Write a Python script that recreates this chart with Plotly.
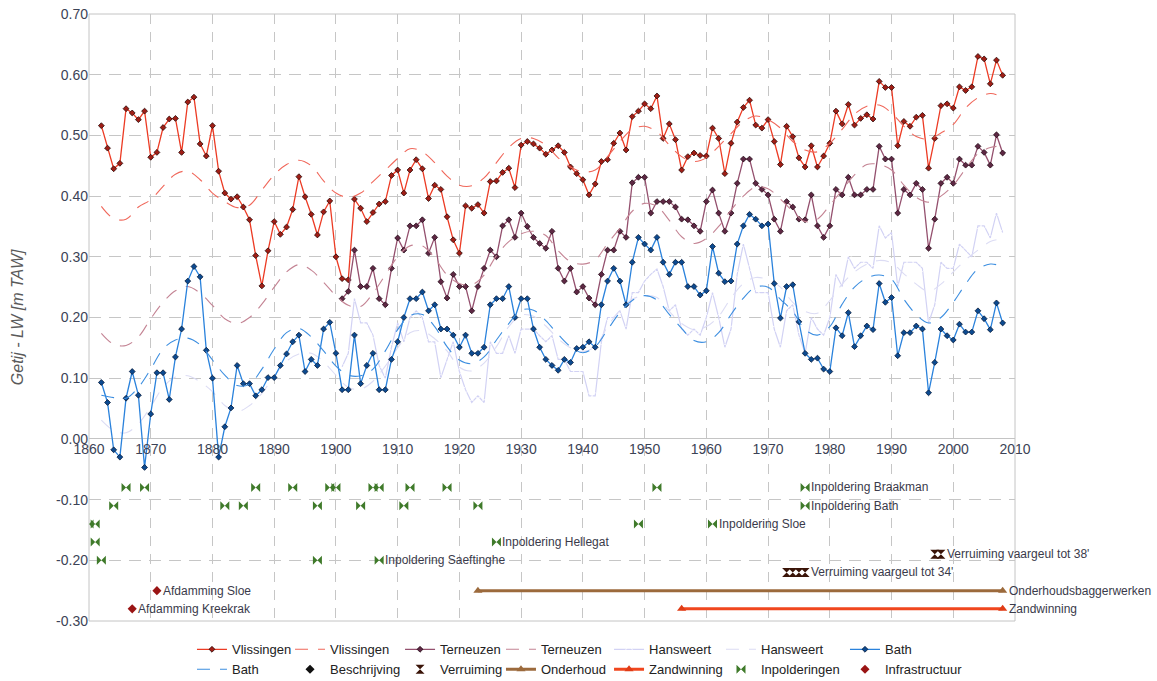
import plotly.graph_objects as go

# ---------------- data ----------------
vl_years = list(range(1862, 2009))
vl_values = [
    0.516, 0.479, 0.445, 0.454, 0.544, 0.537, 0.526, 0.540,            # 1862-1869
    0.464, 0.472, 0.513, 0.527, 0.528, 0.472, 0.555, 0.563, 0.486, 0.466,  # 1870s
    0.516, 0.441, 0.405, 0.395, 0.399, 0.382, 0.361, 0.302, 0.252, 0.310,  # 1880s
    0.358, 0.337, 0.349, 0.378, 0.432, 0.399, 0.370, 0.336, 0.374, 0.392,  # 1890s
    0.300, 0.264, 0.262, 0.395, 0.380, 0.358, 0.373, 0.387, 0.391, 0.434,  # 1900s
    0.443, 0.405, 0.443, 0.460, 0.445, 0.396, 0.418, 0.411, 0.366, 0.328,  # 1910s
    0.306, 0.384, 0.380, 0.386, 0.372, 0.424, 0.425, 0.439, 0.446, 0.414,  # 1920s
    0.484, 0.490, 0.486, 0.479, 0.469, 0.476, 0.483, 0.472, 0.448, 0.437,  # 1930s
    0.427, 0.402, 0.420, 0.457, 0.460, 0.487, 0.504, 0.476, 0.531, 0.540,  # 1940s
    0.552, 0.544, 0.565, 0.495, 0.519, 0.493, 0.443, 0.465, 0.471, 0.467,  # 1950s
    0.466, 0.512, 0.495, 0.437, 0.487, 0.522, 0.546, 0.558, 0.517, 0.512,  # 1960s
    0.526, 0.490, 0.452, 0.515, 0.498, 0.463, 0.448, 0.483, 0.448, 0.466,  # 1970s
    0.487, 0.540, 0.519, 0.551, 0.517, 0.528, 0.534, 0.527, 0.589, 0.579,  # 1980s
    0.579, 0.483, 0.523, 0.515, 0.530, 0.533, 0.446, 0.495, 0.549, 0.552,  # 1990s
    0.545, 0.580, 0.574, 0.580, 0.630, 0.626, 0.585, 0.624, 0.599,         # 2000-2008
]

te_years = list(range(1901, 2009))
te_values = [
    0.231, 0.243, 0.311, 0.251, 0.251, 0.281, 0.231, 0.221, 0.281,         # 1901-1909
    0.331, 0.311, 0.351, 0.351, 0.361, 0.306, 0.332, 0.259, 0.232, 0.271,  # 1910s
    0.251, 0.251, 0.211, 0.251, 0.281, 0.311, 0.300, 0.351, 0.361, 0.332,  # 1920s
    0.372, 0.350, 0.332, 0.322, 0.314, 0.342, 0.281, 0.260, 0.281, 0.242,  # 1930s
    0.251, 0.232, 0.221, 0.271, 0.311, 0.311, 0.342, 0.332, 0.422, 0.431,  # 1940s
    0.431, 0.372, 0.391, 0.391, 0.391, 0.382, 0.362, 0.361, 0.351, 0.342,  # 1950s
    0.391, 0.410, 0.372, 0.342, 0.372, 0.421, 0.461, 0.461, 0.421, 0.411,  # 1960s
    0.402, 0.362, 0.342, 0.391, 0.382, 0.362, 0.361, 0.402, 0.351, 0.332,  # 1970s
    0.351, 0.411, 0.402, 0.431, 0.402, 0.402, 0.411, 0.411, 0.482, 0.461,  # 1980s
    0.461, 0.372, 0.411, 0.402, 0.421, 0.411, 0.314, 0.362, 0.421, 0.431,  # 1990s
    0.421, 0.461, 0.451, 0.451, 0.482, 0.472, 0.451, 0.501, 0.471,         # 2000-2008
]

ha_years = list(range(1901, 2009))
ha_values = [
    0.119, 0.141, 0.231, 0.191, 0.191, 0.171, 0.121, 0.100, 0.151,         # 1901-1909
    0.191, 0.160, 0.200, 0.211, 0.200, 0.160, 0.160, 0.101, 0.131, 0.160,  # 1910s
    0.111, 0.081, 0.060, 0.071, 0.060, 0.160, 0.141, 0.141, 0.170, 0.141,  # 1920s
    0.181, 0.181, 0.181, 0.170, 0.160, 0.170, 0.131, 0.131, 0.111, 0.111,  # 1930s
    0.111, 0.071, 0.071, 0.160, 0.200, 0.200, 0.211, 0.181, 0.241, 0.241,  # 1940s
    0.260, 0.271, 0.280, 0.251, 0.211, 0.221, 0.181, 0.171, 0.181, 0.171,  # 1950s
    0.200, 0.241, 0.200, 0.151, 0.181, 0.271, 0.321, 0.281, 0.241, 0.241,  # 1960s
    0.241, 0.181, 0.151, 0.211, 0.221, 0.171, 0.141, 0.200, 0.181, 0.171,  # 1970s
    0.200, 0.271, 0.251, 0.300, 0.281, 0.291, 0.291, 0.281, 0.351, 0.331,  # 1980s
    0.340, 0.251, 0.291, 0.291, 0.291, 0.281, 0.191, 0.221, 0.291, 0.281,  # 1990s
    0.281, 0.321, 0.311, 0.300, 0.351, 0.351, 0.331, 0.372, 0.340,         # 2000-2008
]

ba_years = list(range(1862, 2009))
ba_values = [
    0.093, 0.060, -0.018, -0.030, 0.067, 0.111, 0.072, -0.047,             # 1862-1869
    0.041, 0.109, 0.109, 0.065, 0.135, 0.181, 0.260, 0.284, 0.267, 0.146,  # 1870s
    0.100, -0.030, 0.020, 0.051, 0.121, 0.091, 0.091, 0.071, 0.081, 0.101, # 1880s
    0.101, 0.121, 0.140, 0.160, 0.171, 0.111, 0.131, 0.121, 0.181, 0.192,  # 1890s
    0.141, 0.081, 0.081, 0.171, 0.091, 0.121, 0.141, 0.081, 0.081, 0.131,  # 1900s
    0.160, 0.200, 0.231, 0.231, 0.242, 0.211, 0.221, 0.181, 0.181, 0.171,  # 1910s
    0.151, 0.171, 0.141, 0.141, 0.151, 0.221, 0.231, 0.231, 0.251, 0.200,  # 1920s
    0.231, 0.231, 0.181, 0.151, 0.131, 0.121, 0.113, 0.131, 0.126, 0.149,  # 1930s
    0.151, 0.160, 0.151, 0.221, 0.260, 0.281, 0.260, 0.221, 0.291, 0.332,  # 1940s
    0.321, 0.311, 0.332, 0.291, 0.271, 0.291, 0.291, 0.251, 0.251, 0.237,  # 1950s
    0.244, 0.317, 0.273, 0.259, 0.260, 0.321, 0.351, 0.370, 0.362, 0.351,  # 1960s
    0.354, 0.256, 0.199, 0.251, 0.254, 0.193, 0.141, 0.131, 0.133, 0.115,  # 1970s
    0.111, 0.183, 0.170, 0.208, 0.152, 0.170, 0.186, 0.180, 0.256, 0.225,  # 1980s
    0.233, 0.137, 0.175, 0.175, 0.186, 0.181, 0.076, 0.126, 0.181, 0.170,  # 1990s
    0.163, 0.189, 0.176, 0.176, 0.211, 0.198, 0.180, 0.224, 0.191,         # 2000-2008
]

# smoothed (nodal-cycle) trend lines
trend_years = [1862, 1864, 1866, 1868, 1870, 1872, 1874, 1876, 1878, 1880,
               1882, 1884, 1886, 1888, 1890, 1892, 1894, 1896, 1898, 1900,
               1902, 1904, 1906, 1908, 1910, 1912, 1914, 1916, 1918, 1920,
               1922, 1924, 1926, 1928, 1930, 1932, 1934, 1936, 1938, 1940,
               1942, 1944, 1946, 1948, 1950, 1952, 1954, 1956, 1958, 1960,
               1962, 1964, 1966, 1968, 1970, 1972, 1974, 1976, 1978, 1980,
               1982, 1984, 1986, 1988, 1990, 1992, 1994, 1996, 1998, 2000,
               2002, 2004, 2006, 2007]
vl_trend = [0.383, 0.363, 0.362, 0.382, 0.394, 0.416, 0.436, 0.441, 0.427, 0.405,
            0.391, 0.381, 0.385, 0.410, 0.435, 0.452, 0.459, 0.450, 0.425, 0.405,
            0.398, 0.405, 0.424, 0.443, 0.462, 0.478, 0.473, 0.455, 0.433, 0.418,
            0.417, 0.430, 0.455, 0.480, 0.495, 0.495, 0.484, 0.463, 0.448, 0.440,
            0.443, 0.465, 0.490, 0.510, 0.515, 0.506, 0.484, 0.465, 0.457, 0.463,
            0.482, 0.503, 0.523, 0.532, 0.526, 0.512, 0.490, 0.476, 0.473, 0.487,
            0.510, 0.535, 0.548, 0.550, 0.537, 0.515, 0.498, 0.494, 0.504, 0.518,
            0.545, 0.562, 0.569, 0.567]
te_trend = [0.174, 0.156, 0.154, 0.168, 0.198, 0.225, 0.244, 0.251, 0.240, 0.220,
            0.198, 0.190, 0.200, 0.222, 0.250, 0.275, 0.287, 0.278, 0.258, 0.236,
            0.220, 0.218, 0.240, 0.270, 0.300, 0.318, 0.318, 0.298, 0.270, 0.256,
            0.254, 0.270, 0.302, 0.325, 0.338, 0.342, 0.335, 0.310, 0.292, 0.288,
            0.295, 0.322, 0.347, 0.375, 0.388, 0.383, 0.360, 0.333, 0.322, 0.330,
            0.350, 0.377, 0.400, 0.415, 0.412, 0.395, 0.375, 0.358, 0.362, 0.385,
            0.410, 0.435, 0.452, 0.452, 0.443, 0.418, 0.398, 0.390, 0.400, 0.418,
            0.445, 0.470, 0.480, 0.482]
ha_trend = [0.031, 0.014, 0.010, 0.025, 0.053, 0.085, 0.102, 0.104, 0.094, 0.078,
            0.055, 0.045, 0.055, 0.075, 0.104, 0.128, 0.140, 0.141, 0.127, 0.105,
            0.085, 0.082, 0.095, 0.120, 0.150, 0.175, 0.178, 0.165, 0.145, 0.118,
            0.112, 0.125, 0.152, 0.185, 0.204, 0.202, 0.186, 0.165, 0.150, 0.144,
            0.152, 0.185, 0.212, 0.230, 0.236, 0.233, 0.210, 0.190, 0.180, 0.185,
            0.202, 0.232, 0.256, 0.266, 0.262, 0.250, 0.225, 0.210, 0.207, 0.228,
            0.255, 0.275, 0.288, 0.294, 0.290, 0.272, 0.255, 0.243, 0.255, 0.275,
            0.295, 0.311, 0.325, 0.328]
ba_trend = [0.072, 0.068, 0.067, 0.085, 0.115, 0.148, 0.163, 0.166, 0.155, 0.130,
            0.105, 0.088, 0.090, 0.115, 0.148, 0.175, 0.182, 0.168, 0.145, 0.120,
            0.105, 0.104, 0.115, 0.145, 0.180, 0.203, 0.205, 0.185, 0.152, 0.130,
            0.124, 0.135, 0.163, 0.190, 0.212, 0.212, 0.195, 0.172, 0.152, 0.142,
            0.152, 0.180, 0.208, 0.228, 0.236, 0.229, 0.205, 0.182, 0.162, 0.160,
            0.175, 0.205, 0.232, 0.250, 0.250, 0.230, 0.210, 0.180, 0.171, 0.185,
            0.222, 0.250, 0.265, 0.270, 0.263, 0.230, 0.205, 0.191, 0.200, 0.225,
            0.255, 0.280, 0.288, 0.287]

# events
inpol_years = [1866, 1869, 1887, 1893, 1899, 1900, 1906, 1907, 1912, 1918, 1952, 1976,
               1864, 1882, 1885, 1897, 1904, 1911, 1923, 1976,
               1860, 1861, 1949, 1961,
               1861, 1926,
               1862, 1897, 1907]
inpol_levels = [-0.08] * 12 + [-0.11] * 8 + [-0.14] * 4 + [-0.17] * 2 + [-0.20] * 3
inpol_labels = [""] * 11 + ["Inpoldering Braakman"] + [""] * 7 + ["Inpoldering Bath"] + \
               [""] * 3 + ["Inpoldering Sloe"] + [""] + ["Inpoldering Hellegat"] + \
               [""] * 2 + ["Inpoldering Saeftinghe"]

verr_years = [1973, 1974, 1975, 1976, 1997, 1998]
verr_levels = [-0.22, -0.22, -0.22, -0.22, -0.19, -0.19]
verr_labels = ["", "", "", "Verruiming vaargeul tot 34'", "", "Verruiming vaargeul tot 38'"]

infra_years = [1871, 1867]
infra_levels = [-0.25, -0.28]
infra_labels = ["Afdamming Sloe", "Afdamming Kreekrak"]

onderhoud_years = [1923, 2008]
onderhoud_levels = [-0.25, -0.25]
onderhoud_label = "Onderhoudsbaggerwerken"

zand_years = [1956, 2008]
zand_levels = [-0.28, -0.28]
zand_label = "Zandwinning"

x_ticks = [1860, 1870, 1880, 1890, 1900, 1910, 1920, 1930, 1940, 1950,
           1960, 1970, 1980, 1990, 2000, 2010]
y_ticks = [-0.3, -0.2, -0.1, 0.0, 0.1, 0.2, 0.3, 0.4, 0.5, 0.6, 0.7]
y_tick_labels = ["-0.30", "-0.20", "-0.10", "0.00", "0.10", "0.20", "0.30",
                 "0.40", "0.50", "0.60", "0.70"]

# ---------------- figure ----------------
FONT = "Liberation Sans, Arial, sans-serif"
DASH = "13px,10px"
fig = go.Figure()

def station(x, y, name, lc, mc, mline, legend, sym="diamond", lw=1.3, ms=4.5):
    fig.add_trace(go.Scatter(
        x=x, y=y, mode="lines+markers", name=name, legend=legend,
        line=dict(color=lc, width=lw),
        marker=dict(symbol=sym, size=ms, color=mc, line=dict(color=mline, width=0.8))))

def trend(x, y, name, c, legend, w=1.1):
    fig.add_trace(go.Scatter(
        x=x, y=y, mode="lines", name=name, legend=legend,
        line=dict(color=c, width=w, dash=DASH, shape="spline", smoothing=1.0)))

station(vl_years, vl_values, "Vlissingen", "#ec3b24", "#a01e16", "#2a0806", "legend")
trend(trend_years, vl_trend, "Vlissingen", "#f0675a", "legend2")
station(te_years, te_values, "Terneuzen", "#94506e", "#5e2844", "#220814", "legend3")
trend(trend_years, te_trend, "Terneuzen", "#c48494", "legend4")
station(ha_years, ha_values, "Hansweert", "#d2d2f4", "#ffffff", "#4a4a5a", "legend5",
        sym="diamond-open", lw=1.2, ms=5)
trend(trend_years, ha_trend, "Hansweert", "#dcdcf4", "legend6")
station(ba_years, ba_values, "Bath", "#2a82dc", "#0c4a90", "#061a3a", "legend7")
trend(trend_years, ba_trend, "Bath", "#3c8ee0", "legend")

# Beschrijving (legend only)
fig.add_trace(go.Scatter(x=[None], y=[None], mode="markers", name="Beschrijving", legend="legend2",
                         marker=dict(symbol="diamond", size=7, color="#111111")))
# Verruiming
fig.add_trace(go.Scatter(x=verr_years, y=verr_levels, mode="markers", name="Verruiming", legend="legend3",
                         marker=dict(symbol="hourglass", size=9, color="#3a1408")))
# Onderhoud
fig.add_trace(go.Scatter(x=onderhoud_years, y=onderhoud_levels, mode="lines+markers", name="Onderhoud",
                         legend="legend4",
                         line=dict(color="#9c6a3c", width=3),
                         marker=dict(symbol="triangle-up", size=8, color="#9c6a3c")))
# Zandwinning
fig.add_trace(go.Scatter(x=zand_years, y=zand_levels, mode="lines+markers", name="Zandwinning",
                         legend="legend5",
                         line=dict(color="#f0461e", width=3),
                         marker=dict(symbol="triangle-up", size=8, color="#e03c16")))
# Inpolderingen
fig.add_trace(go.Scatter(x=inpol_years, y=inpol_levels, mode="markers", name="Inpolderingen",
                         legend="legend6",
                         marker=dict(symbol="bowtie", size=9, color="#3f7a2a")))
# Infrastructuur
fig.add_trace(go.Scatter(x=infra_years, y=infra_levels, mode="markers", name="Infrastructuur",
                         legend="legend7",
                         marker=dict(symbol="diamond", size=7, color="#9a1414")))

annotations = []
def label(x, y, t):
    annotations.append(dict(x=x, y=y, xref="x", yref="y", text=t, showarrow=False,
                            xanchor="left", yanchor="middle", xshift=4,
                            font=dict(family=FONT, size=12, color="#3a3a4a")))

for xx, yy, tt in zip(inpol_years, inpol_levels, inpol_labels):
    if tt:
        label(xx, yy, tt)
for xx, yy, tt in zip(verr_years, verr_levels, verr_labels):
    if tt:
        label(xx, yy, tt)
for xx, yy, tt in zip(infra_years, infra_levels, infra_labels):
    label(xx, yy, tt)
label(onderhoud_years[-1], onderhoud_levels[-1], onderhoud_label)
label(zand_years[-1], zand_levels[-1], zand_label)

annotations.append(dict(x=-0.077, y=0.5, xref="paper", yref="paper",
                        xanchor="center", yanchor="middle",
                        text="<i>Getij - LW [m TAW]</i>", showarrow=False, textangle=-90,
                        font=dict(family=FONT, size=16, color="#5a5a5a")))

# legend columns (seven small vertical legends, two entries each)
legend_cols = [0.1112, 0.2171, 0.3359, 0.4449, 0.5616, 0.6825, 0.8164]
legend_names = ["legend", "legend2", "legend3", "legend4", "legend5", "legend6", "legend7"]
legend_layout = {}
for key, lx in zip(legend_names, legend_cols):
    legend_layout[key] = dict(orientation="v", x=lx, xanchor="left", y=-0.022, yanchor="top",
                              itemwidth=30, tracegroupgap=0, bgcolor="rgba(0,0,0,0)",
                              font=dict(family=FONT, size=13, color="#222222"))

GRID = "#c6c6c6"
fig.update_layout(
    width=1157, height=681,
    margin=dict(l=89, r=142, t=14, b=60, autoexpand=False),
    plot_bgcolor="white", paper_bgcolor="white",
    font=dict(family=FONT, size=13, color="#222222"),
    annotations=annotations,
    showlegend=True,
    hovermode=False,
    xaxis=dict(range=[1860, 2010], tickvals=x_ticks, ticktext=[str(v) for v in x_ticks],
               showgrid=True, gridcolor=GRID, griddash="10px,8px", gridwidth=1,
               anchor="free", position=0.3, showline=False, zeroline=False, ticks="",
               tickfont=dict(family=FONT, size=14, color="#3c4356")),
    yaxis=dict(range=[-0.3, 0.7], tickvals=y_ticks, ticktext=y_tick_labels,
               showgrid=True, gridcolor=GRID, griddash="12px,8px", gridwidth=1,
               zeroline=True, zerolinecolor="#c4c4c4", zerolinewidth=1,
               showline=False, ticks="",
               tickfont=dict(family=FONT, size=14, color="#3c4356")),
    shapes=[dict(type="rect", xref="paper", yref="paper", x0=0, x1=1, y0=0, y1=1,
                 line=dict(color="#c4c4c4", width=1), layer="below")],
    **legend_layout,
)

fig.write_html("out.html", config={"displayModeBar": False},
               post_script="document.body.style.margin='0px';")
